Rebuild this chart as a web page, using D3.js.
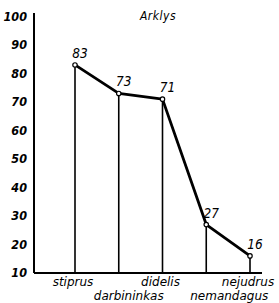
<!DOCTYPE html>
<html>
<head>
<meta charset="utf-8">
<script src="https://cdn.jsdelivr.net/npm/d3@7"></script>
<style>
  body { margin: 0; background: #fff; }
  svg text { font-family: "DejaVu Sans Condensed", "DejaVu Sans", sans-serif; font-style: italic; fill: #000; }
</style>
</head>
<body>
<svg id="chart" width="279" height="303"></svg>
<script>
// chart data
const categories = ['stiprus', 'darbininkas', 'didelis', 'nemandagus', 'nejudrus'];
const values = [83, 73, 71, 27, 16];
const yTicks = [10, 20, 30, 40, 50, 60, 70, 80, 90, 100];
const title = 'Arklys';

const svg = d3.select('#chart');

const x = d3.scalePoint().domain(categories).range([75, 250]);
const y = d3.scaleLinear().domain([10, 100]).range([273, 16.5]);

const axisX = 34;
const axisRight = 262;

// y axis line
svg.append('line')
  .attr('x1', axisX).attr('x2', axisX)
  .attr('y1', 13).attr('y2', y(10))
  .attr('stroke', '#000').attr('stroke-width', 2);

// baseline
svg.append('line')
  .attr('x1', axisX).attr('x2', axisRight)
  .attr('y1', y(10)).attr('y2', y(10))
  .attr('stroke', '#000').attr('stroke-width', 2);

// tick labels
svg.selectAll('.ytick')
  .data(yTicks)
  .enter()
  .append('text')
  .attr('class', 'ytick')
  .attr('x', 27)
  .attr('y', d => y(d))
  .attr('dy', '0.35em')
  .attr('text-anchor', 'end')
  .style('font-size', '12.5px')
  .style('font-weight', 'bold')
  .text(d => d);

// title
svg.append('text')
  .attr('x', 158)
  .attr('y', 20)
  .attr('text-anchor', 'middle')
  .style('font-size', '12px')
  .style('letter-spacing', '0.5px')
  .text(title);

const pts = categories.map((c, i) => ({ cat: c, val: values[i] }));

// drop lines
svg.selectAll('.drop')
  .data(pts)
  .enter()
  .append('line')
  .attr('x1', d => x(d.cat)).attr('x2', d => x(d.cat))
  .attr('y1', d => y(d.val)).attr('y2', y(10))
  .attr('stroke', '#000').attr('stroke-width', 1.6);

// main line
svg.append('path')
  .datum(pts)
  .attr('d', d3.line().x(d => x(d.cat)).y(d => y(d.val)))
  .attr('fill', 'none')
  .attr('stroke', '#000')
  .attr('stroke-width', 2.8)
  .attr('stroke-linejoin', 'round');

// markers
svg.selectAll('.pt')
  .data(pts)
  .enter()
  .append('circle')
  .attr('cx', d => x(d.cat))
  .attr('cy', d => y(d.val))
  .attr('r', 2.2)
  .attr('fill', '#fff')
  .attr('stroke', '#000')
  .attr('stroke-width', 1.2);

// value labels
svg.selectAll('.val')
  .data(pts)
  .enter()
  .append('text')
  .attr('x', d => x(d.cat) + 5)
  .attr('y', d => y(d.val) - 7)
  .attr('text-anchor', 'middle')
  .style('font-size', '13.5px')
  .text(d => d.val);

// category labels, odd ones on a second row
svg.selectAll('.cat')
  .data(pts)
  .enter()
  .append('text')
  .attr('x', (d, i) => x(d.cat) + (i % 2 ? (i === 1 ? 10 : 23) : -2))
  .attr('y', (d, i) => i % 2 ? 300 : 286)
  .attr('text-anchor', 'middle')
  .style('font-family', '"DejaVu Sans", sans-serif')
  .style('font-size', '12px')
  .text(d => d.cat);
</script>
</body>
</html>
